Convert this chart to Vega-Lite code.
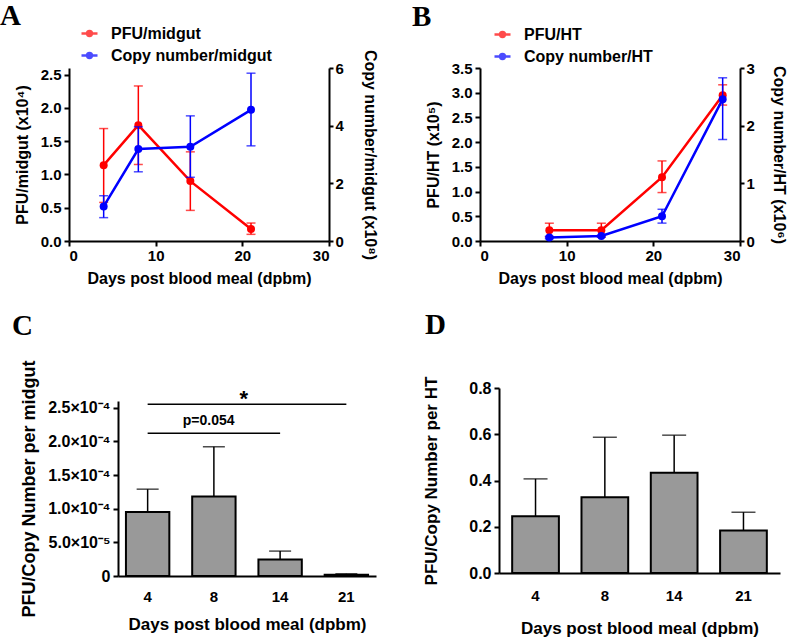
{
  "$schema": "https://vega.github.io/schema/vega-lite/v6.json",
  "padding": {"left": 0, "top": 2, "right": 2, "bottom": 2},
  "config": {
    "view": {"stroke": null},
    "font": "Liberation Sans",
    "axis": {"domainColor": "black", "domainWidth": 2, "tickColor": "black", "tickWidth": 2, "tickSize": 5, "labelFont": "Liberation Sans", "labelFontSize": 15, "labelFontWeight": "bold", "labelColor": "black", "titleFont": "Liberation Sans", "titleFontSize": 16, "titleFontWeight": "bold", "titleColor": "black", "grid": false, "labelPadding": 3, "labelOverlap": false},
    "title": {"font": "Liberation Serif", "fontSize": 29, "fontWeight": "bold", "color": "black", "anchor": "start", "frame": "group", "baseline": "alphabetic"}
  },
  "spacing": 25,
  "resolve": {"scale": {"color": "independent"}, "legend": {"color": "independent"}},
  "vconcat": [
    {
      "spacing": 34,
      "resolve": {"scale": {"color": "independent"}, "legend": {"color": "independent"}},
      "hconcat": [
        {
          "width": 260, "height": 173,
          "title": {"text": "A", "dx": -69, "offset": -7},
          "layer": [
            {
              "data": {"values": [
                {"series": "PFU/midgut", "day": 4, "v": 1.14, "lo": 0.58, "hi": 1.69},
                {"series": "PFU/midgut", "day": 8, "v": 1.74, "lo": 1.15, "hi": 2.33},
                {"series": "PFU/midgut", "day": 14, "v": 0.90, "lo": 0.46, "hi": 1.34},
                {"series": "PFU/midgut", "day": 21, "v": 0.18, "lo": 0.10, "hi": 0.27}
              ]},
              "encoding": {
                "x": {"field": "day", "type": "quantitative", "scale": {"domain": [0, 30]}, "axis": {"values": [0, 10, 20, 30], "title": "Days post blood meal (dpbm)", "labelPadding": 2, "titlePadding": 7}},
                "color": {"field": "series", "type": "nominal", "scale": {"domain": ["PFU/midgut", "Copy number/midgut"], "range": ["#ff0000", "#0000ff"]},
                  "legend": {"orient": "none", "legendX": 11, "legendY": -44, "title": null, "direction": "vertical", "labelFont": "Liberation Sans", "labelFontSize": 16, "labelFontWeight": "bold", "labelColor": "black", "labelLimit": 400, "symbolType": "M-1,0L1,0M0.12,0A0.12,0.12,0,1,1,-0.12,0A0.12,0.12,0,1,1,0.12,0M0.3,0A0.3,0.3,0,1,1,-0.3,0A0.3,0.3,0,1,1,0.3,0", "symbolSize": 256, "symbolStrokeWidth": 2.5, "labelOffset": 12, "rowPadding": 4}}
              },
              "layer": [
                {"mark": {"type": "errorbar", "ticks": true, "size": 9, "thickness": 1.5},
                 "encoding": {"y": {"field": "lo", "type": "quantitative", "scale": {"domain": [0, 2.5]}, "axis": {"values": [0, 0.5, 1, 1.5, 2, 2.5], "format": ".1f", "title": "PFU/midgut (x10⁴)", "titlePadding": 10}}, "y2": {"field": "hi"}}},
                {"mark": {"type": "line", "strokeWidth": 2.5, "point": {"filled": true, "size": 64}},
                 "encoding": {"y": {"field": "v", "type": "quantitative", "axis": {"values": [0, 0.5, 1, 1.5, 2, 2.5], "format": ".1f", "title": "PFU/midgut (x10⁴)", "titlePadding": 10}}}}
              ]
            },
            {
              "data": {"values": [
                {"series": "Copy number/midgut", "day": 4, "v": 1.20, "lo": 0.81, "hi": 1.57},
                {"series": "Copy number/midgut", "day": 8, "v": 3.19, "lo": 2.40, "hi": 3.96},
                {"series": "Copy number/midgut", "day": 14, "v": 3.27, "lo": 2.21, "hi": 4.34},
                {"series": "Copy number/midgut", "day": 21, "v": 4.55, "lo": 3.30, "hi": 5.82}
              ]},
              "encoding": {
                "x": {"field": "day", "type": "quantitative", "scale": {"domain": [0, 30]}, "axis": {"values": [0, 10, 20, 30], "title": "Days post blood meal (dpbm)", "labelPadding": 2, "titlePadding": 7}},
                "color": {"field": "series", "type": "nominal"}
              },
              "layer": [
                {"mark": {"type": "errorbar", "ticks": true, "size": 9, "thickness": 1.5},
                 "encoding": {"y": {"field": "lo", "type": "quantitative", "scale": {"domain": [0, 6]}, "axis": {"orient": "right", "values": [0, 2, 4, 6], "title": "Copy number/midgut (x10⁸)", "tickSize": 4, "labelPadding": 2, "titlePadding": 18}}, "y2": {"field": "hi"}}},
                {"mark": {"type": "line", "strokeWidth": 2.5, "point": {"filled": true, "size": 64}},
                 "encoding": {"y": {"field": "v", "type": "quantitative", "axis": {"orient": "right", "values": [0, 2, 4, 6], "title": "Copy number/midgut (x10⁸)", "tickSize": 4, "labelPadding": 2, "titlePadding": 18}}}}
              ]
            }
          ],
          "resolve": {"scale": {"y": "independent"}}
        },
        {
          "width": 260, "height": 173,
          "title": {"text": "B", "dx": -68, "offset": -7},
          "layer": [
            {
              "data": {"values": [
                {"series": "PFU/HT", "day": 8, "v": 0.22, "lo": 0.08, "hi": 0.36},
                {"series": "PFU/HT", "day": 14, "v": 0.22, "lo": 0.08, "hi": 0.36},
                {"series": "PFU/HT", "day": 21, "v": 1.29, "lo": 0.98, "hi": 1.62},
                {"series": "PFU/HT", "day": 28, "v": 2.95, "lo": 2.75, "hi": 3.16}
              ]},
              "encoding": {
                "x": {"field": "day", "type": "quantitative", "scale": {"domain": [0, 30]}, "axis": {"values": [0, 10, 20, 30], "title": "Days post blood meal (dpbm)", "labelPadding": 2, "titlePadding": 7}},
                "color": {"field": "series", "type": "nominal", "scale": {"domain": ["PFU/HT", "Copy number/HT"], "range": ["#ff0000", "#0000ff"]},
                  "legend": {"orient": "none", "legendX": 13, "legendY": -43, "title": null, "direction": "vertical", "labelFont": "Liberation Sans", "labelFontSize": 16, "labelFontWeight": "bold", "labelColor": "black", "labelLimit": 400, "symbolType": "M-1,0L1,0M0.12,0A0.12,0.12,0,1,1,-0.12,0A0.12,0.12,0,1,1,0.12,0M0.3,0A0.3,0.3,0,1,1,-0.3,0A0.3,0.3,0,1,1,0.3,0", "symbolSize": 256, "symbolStrokeWidth": 2.5, "labelOffset": 12, "rowPadding": 4}}
              },
              "layer": [
                {"mark": {"type": "errorbar", "ticks": true, "size": 9, "thickness": 1.5},
                 "encoding": {"y": {"field": "lo", "type": "quantitative", "scale": {"domain": [0, 3.5]}, "axis": {"values": [0, 0.5, 1, 1.5, 2, 2.5, 3, 3.5], "format": ".1f", "title": "PFU/HT (x10⁵)", "titlePadding": 10}}, "y2": {"field": "hi"}}},
                {"mark": {"type": "line", "strokeWidth": 2.5, "point": {"filled": true, "size": 64}},
                 "encoding": {"y": {"field": "v", "type": "quantitative", "axis": {"values": [0, 0.5, 1, 1.5, 2, 2.5, 3, 3.5], "format": ".1f", "title": "PFU/HT (x10⁵)", "titlePadding": 10}}}}
              ]
            },
            {
              "data": {"values": [
                {"series": "Copy number/HT", "day": 8, "v": 0.06, "lo": 0.04, "hi": 0.08},
                {"series": "Copy number/HT", "day": 14, "v": 0.087, "lo": 0.07, "hi": 0.10},
                {"series": "Copy number/HT", "day": 21, "v": 0.43, "lo": 0.31, "hi": 0.55},
                {"series": "Copy number/HT", "day": 28, "v": 2.46, "lo": 1.76, "hi": 2.83}
              ]},
              "encoding": {
                "x": {"field": "day", "type": "quantitative", "scale": {"domain": [0, 30]}, "axis": {"values": [0, 10, 20, 30], "title": "Days post blood meal (dpbm)", "labelPadding": 2, "titlePadding": 7}},
                "color": {"field": "series", "type": "nominal"}
              },
              "layer": [
                {"mark": {"type": "errorbar", "ticks": true, "size": 9, "thickness": 1.5},
                 "encoding": {"y": {"field": "lo", "type": "quantitative", "scale": {"domain": [0, 3]}, "axis": {"orient": "right", "values": [0, 1, 2, 3], "title": "Copy number/HT (x10⁶)", "tickSize": 4, "labelPadding": 2, "titlePadding": 16}}, "y2": {"field": "hi"}}},
                {"mark": {"type": "line", "strokeWidth": 2.5, "point": {"filled": true, "size": 64}},
                 "encoding": {"y": {"field": "v", "type": "quantitative", "axis": {"orient": "right", "values": [0, 1, 2, 3], "title": "Copy number/HT (x10⁶)", "tickSize": 4, "labelPadding": 2, "titlePadding": 16}}}}
              ]
            }
          ],
          "resolve": {"scale": {"y": "independent"}}
        }
      ]
    },
    {
      "spacing": 46,
      "hconcat": [
        {
          "spacing": -58,
          "hconcat": [
            {"width": 1, "height": 1, "data": {"values": []}, "mark": "point"},
            {
              "spacing": -78,
              "vconcat": [
                {"width": 1, "height": 1, "data": {"values": []}, "mark": "point"},
                {
                  "width": 258, "height": 175,
                  "title": {"text": "C", "dx": -106, "offset": 19},
                  "layer": [
                    {
                      "data": {"values": [
                        {"day": "4", "v": 0.000095, "hi": 0.000129},
                        {"day": "8", "v": 0.000118, "hi": 0.000192},
                        {"day": "14", "v": 0.0000245, "hi": 0.000037},
                        {"day": "21", "v": 0.000002, "hi": 0.0000033}
                      ]},
                      "encoding": {
                        "x": {"field": "day", "type": "ordinal", "sort": null, "scale": {"domain": ["4", "8", "14", "21"], "paddingInner": 0.345, "paddingOuter": 0.12}, "axis": {"ticks": false, "labelAngle": 0, "labelPadding": 13, "title": "Days post blood meal (dpbm)", "titlePadding": 12, "titleFontSize": 17}}
                      },
                      "layer": [
                        {"mark": {"type": "rule", "color": "black", "strokeWidth": 1.5},
                         "encoding": {"y": {"field": "v", "type": "quantitative", "scale": {"domain": [0, 0.00025]}, "axis": {"values": [0, 0.00005, 0.0001, 0.00015, 0.0002, 0.00025], "labelOverlap": false, "labelExpr": "datum.value == 0 ? '0' : datum.value >= 0.0000999 ? format(datum.value*10000, '.1f') + '×10⁻⁴' : format(datum.value*100000, '.1f') + '×10⁻⁵'", "labelFontSize": 16, "title": "PFU/Copy Number per midgut", "titleFontSize": 18, "titlePadding": 9}}, "y2": {"field": "hi"}}},
                        {"mark": {"type": "tick", "color": "black", "thickness": 1.5, "size": 22},
                         "encoding": {"y": {"field": "hi", "type": "quantitative", "axis": {"values": [0, 0.00005, 0.0001, 0.00015, 0.0002, 0.00025], "labelOverlap": false, "labelExpr": "datum.value == 0 ? '0' : datum.value >= 0.0000999 ? format(datum.value*10000, '.1f') + '×10⁻⁴' : format(datum.value*100000, '.1f') + '×10⁻⁵'", "labelFontSize": 16, "title": "PFU/Copy Number per midgut", "titleFontSize": 18, "titlePadding": 9}}}},
                        {"mark": {"type": "bar", "fill": "#999999", "stroke": "black", "strokeWidth": 2},
                         "encoding": {"y": {"field": "v", "type": "quantitative", "axis": {"values": [0, 0.00005, 0.0001, 0.00015, 0.0002, 0.00025], "labelOverlap": false, "labelExpr": "datum.value == 0 ? '0' : datum.value >= 0.0000999 ? format(datum.value*10000, '.1f') + '×10⁻⁴' : format(datum.value*100000, '.1f') + '×10⁻⁵'", "labelFontSize": 16, "title": "PFU/Copy Number per midgut", "titleFontSize": 18, "titlePadding": 9}}}}
                      ]
                    },
                    {
                      "data": {"values": [
                        {"from": "4", "to": "21", "y": 0.000255},
                        {"from": "4", "to": "14", "y": 0.000212}
                      ]},
                      "mark": {"type": "rule", "color": "black", "strokeWidth": 1.5},
                      "encoding": {
                        "x": {"field": "from", "type": "ordinal", "sort": null, "axis": {"ticks": false, "labelAngle": 0, "labelPadding": 13, "title": "Days post blood meal (dpbm)", "titlePadding": 12, "titleFontSize": 17}},
                        "x2": {"field": "to"},
                        "y": {"field": "y", "type": "quantitative", "axis": {"values": [0, 0.00005, 0.0001, 0.00015, 0.0002, 0.00025], "labelOverlap": false, "labelExpr": "datum.value == 0 ? '0' : datum.value >= 0.0000999 ? format(datum.value*10000, '.1f') + '×10⁻⁴' : format(datum.value*100000, '.1f') + '×10⁻⁵'", "labelFontSize": 16, "title": "PFU/Copy Number per midgut", "titleFontSize": 18, "titlePadding": 9}}
                      }
                    },
                    {
                      "data": {"values": [{"pos": "8", "y": 0.000253, "t": "*"}]},
                      "mark": {"type": "text", "fontSize": 22, "fontWeight": "bold", "baseline": "alphabetic", "color": "black", "font": "Liberation Sans"},
                      "encoding": {
                        "x": {"field": "pos", "type": "ordinal", "sort": null, "bandPosition": 1.19, "axis": {"ticks": false, "labelAngle": 0, "labelPadding": 13, "title": "Days post blood meal (dpbm)", "titlePadding": 12, "titleFontSize": 17}},
                        "y": {"field": "y", "type": "quantitative", "axis": {"values": [0, 0.00005, 0.0001, 0.00015, 0.0002, 0.00025], "labelOverlap": false, "labelExpr": "datum.value == 0 ? '0' : datum.value >= 0.0000999 ? format(datum.value*10000, '.1f') + '×10⁻⁴' : format(datum.value*100000, '.1f') + '×10⁻⁵'", "labelFontSize": 16, "title": "PFU/Copy Number per midgut", "titleFontSize": 18, "titlePadding": 9}},
                        "text": {"field": "t"}
                      }
                    },
                    {
                      "data": {"values": [{"pos": "8", "y": 0.000225, "t": "p=0.054"}]},
                      "mark": {"type": "text", "fontSize": 14, "fontWeight": "bold", "baseline": "alphabetic", "color": "black", "font": "Liberation Sans"},
                      "encoding": {
                        "x": {"field": "pos", "type": "ordinal", "sort": null, "bandPosition": 0.38, "axis": {"ticks": false, "labelAngle": 0, "labelPadding": 13, "title": "Days post blood meal (dpbm)", "titlePadding": 12, "titleFontSize": 17}},
                        "y": {"field": "y", "type": "quantitative", "axis": {"values": [0, 0.00005, 0.0001, 0.00015, 0.0002, 0.00025], "labelOverlap": false, "labelExpr": "datum.value == 0 ? '0' : datum.value >= 0.0000999 ? format(datum.value*10000, '.1f') + '×10⁻⁴' : format(datum.value*100000, '.1f') + '×10⁻⁵'", "labelFontSize": 16, "title": "PFU/Copy Number per midgut", "titleFontSize": 18, "titlePadding": 9}},
                        "text": {"field": "t"}
                      }
                    }
                  ]
                }
              ]
            }
          ]
        },
        {
          "width": 281, "height": 185,
          "title": {"text": "D", "dx": -74, "offset": 36},
          "data": {"values": [
            {"day": "4", "v": 0.245, "hi": 0.407},
            {"day": "8", "v": 0.328, "hi": 0.587},
            {"day": "14", "v": 0.433, "hi": 0.596},
            {"day": "21", "v": 0.184, "hi": 0.263}
          ]},
          "encoding": {
            "x": {"field": "day", "type": "ordinal", "sort": null, "scale": {"domain": ["4", "8", "14", "21"], "paddingInner": 0.326, "paddingOuter": 0.19}, "axis": {"ticks": false, "labelAngle": 0, "labelPadding": 15, "title": "Days post blood meal (dpbm)", "titlePadding": 17, "titleFontSize": 17}}
          },
          "layer": [
            {"mark": {"type": "rule", "color": "black", "strokeWidth": 1.5},
             "encoding": {"y": {"field": "v", "type": "quantitative", "scale": {"domain": [0, 0.8]}, "axis": {"values": [0, 0.2, 0.4, 0.6, 0.8], "format": ".1f", "labelFontSize": 16, "title": "PFU/Copy Number per HT", "titleFontSize": 17, "titlePadding": 28}}, "y2": {"field": "hi"}}},
            {"mark": {"type": "tick", "color": "black", "thickness": 1.5, "size": 24},
             "encoding": {"y": {"field": "hi", "type": "quantitative", "axis": {"values": [0, 0.2, 0.4, 0.6, 0.8], "format": ".1f", "labelFontSize": 16, "title": "PFU/Copy Number per HT", "titleFontSize": 17, "titlePadding": 28}}}},
            {"mark": {"type": "bar", "fill": "#999999", "stroke": "black", "strokeWidth": 2},
             "encoding": {"y": {"field": "v", "type": "quantitative", "axis": {"values": [0, 0.2, 0.4, 0.6, 0.8], "format": ".1f", "labelFontSize": 16, "title": "PFU/Copy Number per HT", "titleFontSize": 17, "titlePadding": 28}}}}
          ]
        }
      ]
    }
  ]
}
